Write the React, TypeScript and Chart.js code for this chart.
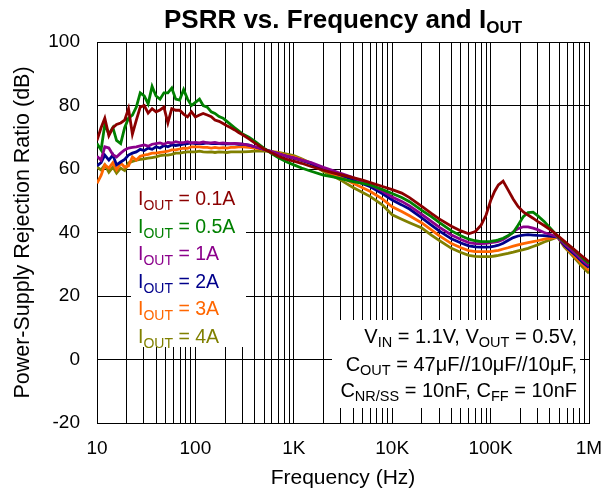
import { useEffect, useRef } from 'react';
import { Chart, registerables } from 'chart.js';

Chart.register(...registerables);

// Frequency points (Hz)
const frequencies = [
  10, 11, 12, 13.2, 14.5, 15.8, 17.4, 19.1, 20.9, 22.9, 25.1, 27.5, 30.2, 33.1, 36.3, 39.8, 43.7, 47.9, 52.5,
  57.5, 63.1, 69.2, 75.9, 83.2, 91.2, 100, 110, 120, 132, 145, 158, 174, 191, 209, 229, 251, 275, 302,
  350, 400, 500, 600, 700, 850, 1000, 1200, 1500, 2000, 2500, 3000, 4000, 5000, 6000, 8000,
  10000, 12500, 15000, 20000, 25000, 30000, 40000, 50000, 60000, 70000, 80000, 90000,
  100000, 110000, 120000, 134000, 150000, 170000, 190000, 215000, 240000, 270000, 300000, 350000,
  420000, 480000, 560000, 650000, 750000, 870000, 1000000,
];

// PSRR (dB) per output current
const psrr01A = [
  69, 73, 76, 70.5, 73, 74, 74.5, 75.4, 79, 71, 75.4, 79.5, 80, 77.6, 79, 78, 78.6, 79.5, 74.5,
  79, 78.5, 78.5, 77.3, 76.4, 78, 76.4, 77, 77.5, 77, 76.5, 75.4, 75, 74.3, 73.6, 73, 72.3, 71.5, 70.8,
  69.5, 68.2, 66.3, 65, 64, 63, 62.5, 61.8, 60.8, 59.6, 58.8, 58.2, 57.3, 56.5, 55.7, 54.5,
  53.5, 52.4, 51, 48.2, 46, 44.3, 42, 40.5, 39.6, 40.3, 42.3, 45.5,
  50, 53, 55, 56.2, 53.5, 50.5, 48.2, 46.5, 45.5, 44.5, 43.5, 42.2,
  40.5, 39, 37.3, 35.6, 34, 32.3, 30.8,
];
const psrr05A = [
  68, 66, 74, 71, 73, 69, 68, 73, 76, 77, 79.5, 84, 83, 80.5, 86, 83, 82, 84, 84,
  85.5, 82, 81.7, 85, 82, 80, 81, 82, 80, 79.5, 78, 77.5, 76.5, 76, 75, 74, 73, 72, 71,
  70, 68.8, 66.5, 64.8, 63.5, 62.2, 61.3, 60.3, 59.3, 58.1, 57.5, 57, 56, 55.5, 55, 53.5,
  52.3, 51, 49.7, 47, 45, 43.2, 40.5, 39, 37.9, 37.4, 37.1, 37.1,
  37.2, 37.4, 37.7, 38.2, 39, 40, 42.3, 45, 46.3, 46.4, 45.3, 43.5,
  40.8, 38.8, 37, 35.5, 33.8, 31.8, 30.3,
];
const psrr1A = [
  64, 62.8, 67, 66.6, 64.5, 63.8, 65, 66, 66.6, 66.8, 67, 67.3, 67.6, 67.2, 67.8, 68, 68.2, 67.8, 68.4,
  68.2, 68.6, 68.3, 68.3, 68.6, 68.2, 68.4, 68.2, 68.5, 68.2, 68.2, 68.4, 68.1, 68.2, 68.1, 68, 68.1, 68, 67.8,
  67.5, 67, 66.2, 65.4, 64.8, 64, 63.5, 62.8, 62, 60.5, 59.5, 58.6, 57.3, 56, 55, 53,
  51.2, 49.8, 48.4, 45.7, 43.5, 41.7, 39.2, 37.8, 36.8, 36.5, 36.5, 36.6,
  36.8, 37, 37.2, 37.8, 38.8, 40.2, 41.2, 41.8, 41.8, 41.4, 40.9, 40,
  39.2, 38.6, 36.5, 34.7, 33, 31, 29.5,
];
const psrr2A = [
  61, 62, 64.4, 62.8, 64.4, 61.3, 62.2, 63, 64.4, 65, 65.4, 66.2, 65.8, 66.6, 66.2, 67, 66.6, 67.4, 67,
  67.6, 67.4, 67.6, 67.8, 68, 68.2, 68, 68.1, 68, 68.2, 68, 68, 68, 67.9, 67.9, 67.9, 67.9, 67.8, 67.8,
  67.5, 67, 66.2, 65.4, 64.8, 64, 63.4, 62.7, 61.7, 60, 59, 58.1, 56.6, 55.4, 54.4, 52.2,
  50.2, 48.7, 47.4, 44.6, 42.3, 40.5, 38, 36.7, 35.8, 35.5, 35.4, 35.4,
  35.5, 35.7, 36, 36.6, 37.5, 38.4, 38.9, 39.2, 39.3, 39.2, 39.1, 39,
  38.8, 38.6, 36, 34.2, 32.5, 30.5, 29,
];
const psrr3A = [
  55.5, 58, 61.3, 60.3, 62, 59.7, 61.9, 60.6, 61, 63.8, 62.8, 64, 64.4, 64.6, 65, 65, 65.2, 65.4, 65.6,
  66, 66, 66.3, 66.6, 66.5, 67, 67, 67, 66.8, 66.8, 66.6, 66.8, 66.6, 66.7, 66.6, 66.8, 66.8, 67, 67,
  66.8, 66.6, 66.1, 65.5, 65, 64.2, 63.8, 63, 61.8, 59.7, 58.5, 57.5, 55.5, 54.1, 52.9, 50.5,
  48.1, 46.6, 45.3, 43, 40.8, 39, 36.5, 35.2, 34.3, 34, 34, 34,
  34, 34.2, 34.4, 34.8, 35.2, 35.7, 36.1, 36.5, 36.8, 37.1, 37.4, 37.9,
  38.3, 38.6, 35.8, 33.8, 31.8, 29.8, 28,
];
const psrr4A = [
  60.6, 59.7, 61.3, 59, 60.6, 58.7, 60.3, 59.5, 61.9, 62.4, 62.8, 63, 63.2, 63.4, 63.6, 63.8, 64.2, 64.4, 64.4,
  64.6, 65, 65, 65.2, 65.4, 65.4, 65.4, 65.6, 65.4, 65.3, 65.4, 65.2, 65.4, 65.3, 65.2, 65.4, 65.4, 65.4, 65.4,
  65.5, 65.6, 65.6, 65.5, 65.2, 64.7, 64.2, 63.2, 61.8, 59.2, 57.8, 56.5, 54.2, 52.6, 51.3, 48.6,
  45.6, 44.2, 43.1, 41.4, 39.2, 37.5, 35, 33.7, 32.8, 32.5, 32.4, 32.4,
  32.4, 32.6, 32.8, 33.1, 33.4, 33.8, 34.2, 34.6, 35, 35.6, 36.1, 37,
  37.9, 38.6, 35.5, 33.4, 31.2, 29, 27.2,
];

const seriesLabels = ['0.1A', '0.5A', '1A', '2A', '3A', '4A'];
const seriesColors = ['#8B0000', '#008000', '#8B008B', '#00008B', '#FF6600', '#808000'];

const decadeTicks = [10, 100, 1000, 10000, 100000, 1000000];
const decadeLabels = ['10', '100', '1K', '10K', '100K', '1M'];
const yMin = -20;
const yMax = 100;
const yStep = 20;

const FAMILY = '"Liberation Sans", Arial, Helvetica, sans-serif';

type Seg = [string, boolean];

function drawRich(
  ctx: CanvasRenderingContext2D,
  segs: Seg[],
  x: number,
  y: number,
  align: 'left' | 'center' | 'right',
  mainFont: string,
  subFont: string,
  subDy: number,
  color: string
) {
  ctx.fillStyle = color;
  ctx.textBaseline = 'alphabetic';
  ctx.textAlign = 'left';
  const widths = segs.map(([t, s]) => {
    ctx.font = s ? subFont : mainFont;
    return ctx.measureText(t).width;
  });
  const total = widths.reduce((a, b) => a + b, 0);
  let cx = align === 'left' ? x : align === 'center' ? x - total / 2 : x - total;
  segs.forEach(([t, s], i) => {
    ctx.font = s ? subFont : mainFont;
    ctx.fillText(t, cx, s ? y + subDy : y);
    cx += widths[i];
  });
}

const textPlugin = {
  id: 'psrrText',
  beforeDatasetsDraw(chart: any) {
    const ctx: CanvasRenderingContext2D = chart.ctx;
    const area = chart.chartArea;
    ctx.save();
    // white backgrounds for legend & conditions box
    ctx.fillStyle = '#ffffff';
    ctx.fillRect(area.left + 34, 180, 115, 167);
    ctx.fillRect(332, 320, 248, 88);

    // legend
    const mainF = `19.5px ${FAMILY}`;
    const subF = `14px ${FAMILY}`;
    seriesLabels.forEach((lab, i) => {
      drawRich(ctx, [['I', false], ['OUT', true], [' = ' + lab, false]], area.left + 41, 205 + i * 27.6, 'left', mainF, subF, 5, seriesColors[i]);
    });

    // conditions
    const aF = `20px ${FAMILY}`;
    const aS = `14.5px ${FAMILY}`;
    const rx = 577;
    drawRich(ctx, [['V', false], ['IN', true], [' = 1.1V, V', false], ['OUT', true], [' = 0.5V,', false]], rx, 343, 'right', aF, aS, 4, '#000');
    drawRich(ctx, [['C', false], ['OUT', true], [' = 47\u03bcF//10\u03bcF//10\u03bcF,', false]], rx, 370.5, 'right', aF, aS, 4, '#000');
    drawRich(ctx, [['C', false], ['NR/SS', true], [' = 10nF, C', false], ['FF', true], [' = 10nF', false]], rx, 397, 'right', aF, aS, 4, '#000');
    ctx.restore();
  },
  afterDraw(chart: any) {
    const ctx: CanvasRenderingContext2D = chart.ctx;
    const area = chart.chartArea;
    ctx.save();
    drawRich(
      ctx,
      [['PSRR vs. Frequency and I', false], ['OUT', true]],
      (area.left + area.right) / 2,
      28,
      'center',
      `bold 26px ${FAMILY}`,
      `bold 17px ${FAMILY}`,
      4.5,
      '#000'
    );
    ctx.restore();
  },
};

export default function App() {
  const ref = useRef<HTMLCanvasElement>(null);

  useEffect(() => {
    document.body.style.margin = '0';
    const series = [psrr01A, psrr05A, psrr1A, psrr2A, psrr3A, psrr4A];
    const gridValues: number[] = [];
    decadeTicks.slice(0, -1).forEach((d) => {
      for (let m = 1; m < 10; m++) gridValues.push(Math.round(d * m));
    });
    gridValues.push(decadeTicks[decadeTicks.length - 1]);

    const chart = new Chart(ref.current as HTMLCanvasElement, {
      type: 'line',
      data: {
        datasets: series.map((vals, i) => ({
          label: 'IOUT = ' + seriesLabels[i],
          data: vals.map((v, j) => ({ x: frequencies[j], y: v })),
          borderColor: seriesColors[i],
          backgroundColor: seriesColors[i],
          borderWidth: 2.8,
          pointRadius: 0,
          tension: 0,
          fill: false,
        })),
      },
      options: {
        responsive: false,
        animation: false,
        events: [],
        layout: { padding: { top: 42, right: 14, bottom: 0, left: 0 } },
        plugins: {
          legend: { display: false },
          title: { display: false },
          tooltip: { enabled: false },
        },
        scales: {
          x: {
            type: 'logarithmic',
            min: decadeTicks[0],
            max: decadeTicks[decadeTicks.length - 1],
            afterBuildTicks: (scale: any) => {
              scale.ticks = gridValues.map((v) => ({ value: v }));
            },
            afterFit: (scale: any) => {
              scale.height = 73;
              scale.paddingLeft = 0;
              scale.paddingRight = 0;
            },
            ticks: {
              autoSkip: false,
              maxRotation: 0,
              minRotation: 0,
              padding: 14,
              color: '#000',
              font: { family: FAMILY, size: 19 },
              callback: (v: any) => {
                const idx = decadeTicks.indexOf(Number(v));
                return idx >= 0 ? decadeLabels[idx] : '';
              },
            },
            grid: { color: '#000', lineWidth: 1, drawTicks: false },
            border: { color: '#000', width: 1 },
            title: {
              display: true,
              text: 'Frequency (Hz)',
              color: '#000',
              font: { family: FAMILY, size: 21 },
              padding: { top: 0, bottom: 5 },
            },
          },
          y: {
            type: 'linear',
            min: yMin,
            max: yMax,
            afterFit: (scale: any) => {
              scale.width = 97;
              scale.paddingTop = 0;
              scale.paddingBottom = 0;
            },
            ticks: {
              stepSize: yStep,
              padding: 17,
              color: '#000',
              font: { family: FAMILY, size: 19 },
            },
            grid: { color: '#000', lineWidth: 1, drawTicks: false },
            border: { color: '#000', width: 1 },
            title: {
              display: true,
              text: 'Power-Supply Rejection Ratio (dB)',
              color: '#000',
              font: { family: FAMILY, size: 21.5 },
              padding: { top: 10, bottom: 0 },
            },
          },
        },
      },
      plugins: [textPlugin],
    } as any);

    return () => chart.destroy();
  }, []);

  return (
    <div style={{ position: 'absolute', left: 0, top: 0, width: 603, height: 496 }}>
      <canvas ref={ref} width={603} height={496} style={{ display: 'block', width: 603, height: 496 }} />
    </div>
  );
}
